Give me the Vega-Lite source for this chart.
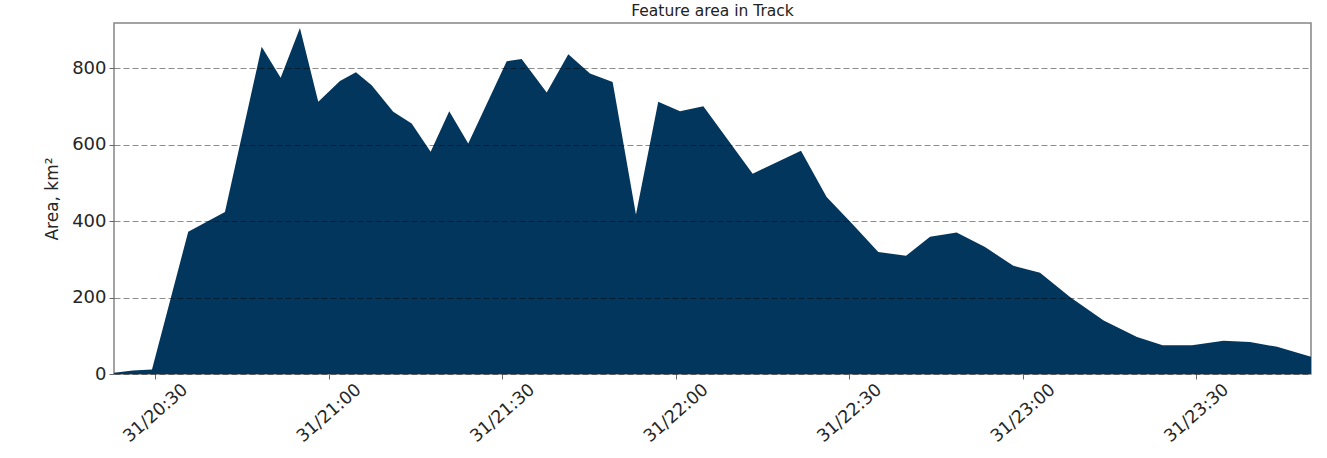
{
  "$schema": "https://vega.github.io/schema/vega-lite/v6.json",
  "autosize": {"type": "none"},
  "width": 1197,
  "height": 351,
  "padding": {"left": 114, "top": 23, "right": 16, "bottom": 84},
  "background": "white",
  "title": {
    "text": "Feature area in Track",
    "font": "DejaVu Sans",
    "fontSize": 15.5,
    "fontWeight": "normal",
    "color": "#222",
    "anchor": "middle",
    "baseline": "bottom",
    "offset": 3,
    "dy": 14
  },
  "config": {
    "view": {"stroke": "#858585", "strokeWidth": 1.5},
    "axis": {
      "labelFont": "DejaVu Sans",
      "titleFont": "DejaVu Sans",
      "labelColor": "#262626",
      "titleColor": "#262626",
      "tickColor": "#666",
      "domain": false
    }
  },
  "data": {
    "values": [
      {"time": "2020-01-31T20:22:52", "area": 3},
      {"time": "2020-01-31T20:26:08", "area": 9},
      {"time": "2020-01-31T20:29:26", "area": 12},
      {"time": "2020-01-31T20:35:42", "area": 372},
      {"time": "2020-01-31T20:42:03", "area": 424},
      {"time": "2020-01-31T20:48:24", "area": 856},
      {"time": "2020-01-31T20:51:41", "area": 775},
      {"time": "2020-01-31T20:55:01", "area": 905},
      {"time": "2020-01-31T20:58:11", "area": 712},
      {"time": "2020-01-31T21:01:56", "area": 766},
      {"time": "2020-01-31T21:04:42", "area": 789},
      {"time": "2020-01-31T21:07:25", "area": 755},
      {"time": "2020-01-31T21:11:09", "area": 686},
      {"time": "2020-01-31T21:14:20", "area": 655},
      {"time": "2020-01-31T21:17:37", "area": 581},
      {"time": "2020-01-31T21:20:50", "area": 687},
      {"time": "2020-01-31T21:24:07", "area": 603},
      {"time": "2020-01-31T21:30:46", "area": 818},
      {"time": "2020-01-31T21:33:21", "area": 824},
      {"time": "2020-01-31T21:37:41", "area": 736},
      {"time": "2020-01-31T21:41:25", "area": 836},
      {"time": "2020-01-31T21:45:10", "area": 786},
      {"time": "2020-01-31T21:49:05", "area": 764},
      {"time": "2020-01-31T21:53:07", "area": 417},
      {"time": "2020-01-31T21:56:58", "area": 712},
      {"time": "2020-01-31T22:00:44", "area": 687},
      {"time": "2020-01-31T22:04:46", "area": 700},
      {"time": "2020-01-31T22:13:18", "area": 524},
      {"time": "2020-01-31T22:21:39", "area": 584},
      {"time": "2020-01-31T22:26:05", "area": 463},
      {"time": "2020-01-31T22:30:25", "area": 394},
      {"time": "2020-01-31T22:35:01", "area": 319},
      {"time": "2020-01-31T22:39:49", "area": 309},
      {"time": "2020-01-31T22:43:58", "area": 359},
      {"time": "2020-01-31T22:48:34", "area": 370},
      {"time": "2020-01-31T22:53:28", "area": 332},
      {"time": "2020-01-31T22:58:22", "area": 283},
      {"time": "2020-01-31T23:02:59", "area": 265},
      {"time": "2020-01-31T23:08:13", "area": 201},
      {"time": "2020-01-31T23:13:59", "area": 140},
      {"time": "2020-01-31T23:19:45", "area": 97},
      {"time": "2020-01-31T23:24:11", "area": 75},
      {"time": "2020-01-31T23:29:16", "area": 75},
      {"time": "2020-01-31T23:34:43", "area": 87},
      {"time": "2020-01-31T23:39:17", "area": 84},
      {"time": "2020-01-31T23:43:58", "area": 71},
      {"time": "2020-01-31T23:49:50", "area": 45}
    ]
  },
  "mark": {"type": "area", "interpolate": "linear", "color": "#03365c", "opacity": 1},
  "encoding": {
    "x": {
      "field": "time",
      "type": "temporal",
      "scale": {"nice": false},
      "axis": {
        "title": null,
        "format": "%d/%H:%M",
        "values": [
          {"year": 2020, "month": 1, "date": 31, "hours": 20, "minutes": 30},
          {"year": 2020, "month": 1, "date": 31, "hours": 21, "minutes": 0},
          {"year": 2020, "month": 1, "date": 31, "hours": 21, "minutes": 30},
          {"year": 2020, "month": 1, "date": 31, "hours": 22, "minutes": 0},
          {"year": 2020, "month": 1, "date": 31, "hours": 22, "minutes": 30},
          {"year": 2020, "month": 1, "date": 31, "hours": 23, "minutes": 0},
          {"year": 2020, "month": 1, "date": 31, "hours": 23, "minutes": 30}
        ],
        "labelAngle": -41,
        "labelAlign": "center",
        "labelBaseline": "middle",
        "labelPadding": 34,
        "labelFontSize": 17.5,
        "labelOverlap": false,
        "labelFlush": false,
        "tickSize": 5,
        "grid": false
      }
    },
    "y": {
      "field": "area",
      "type": "quantitative",
      "scale": {"domain": [0, 918], "nice": false, "zero": true},
      "axis": {
        "title": "Area, km²",
        "titleFontSize": 17,
        "titleFontWeight": "normal",
        "titlePadding": 10,
        "values": [0, 200, 400, 600, 800],
        "labelFontSize": 18,
        "labelPadding": 3,
        "tickSize": 5,
        "grid": true,
        "gridColor": "#000",
        "gridOpacity": 0.45,
        "gridDash": [6, 3],
        "gridWidth": 1,
        "zindex": 1
      }
    }
  }
}
